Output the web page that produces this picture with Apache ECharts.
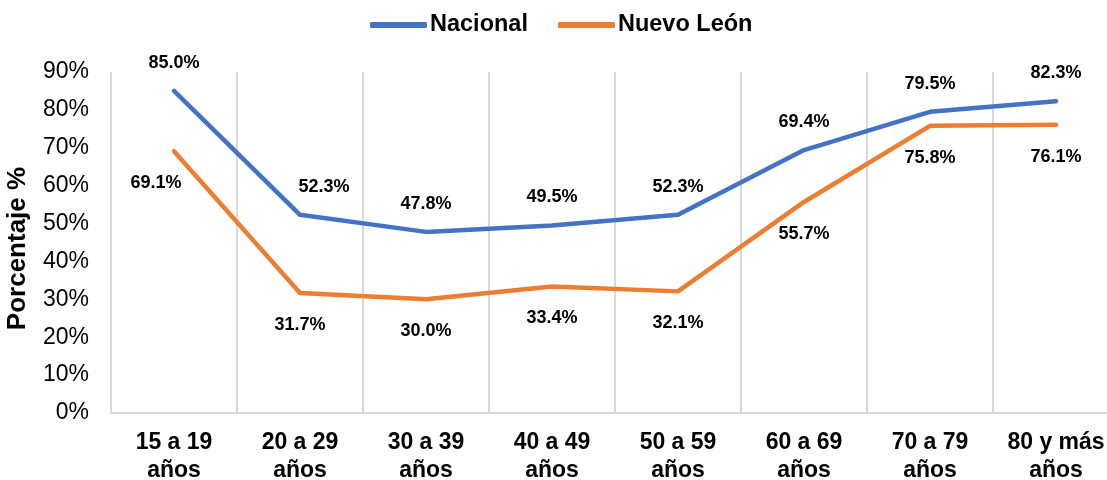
<!DOCTYPE html>
<html>
<head>
<meta charset="utf-8">
<script src="https://cdn.jsdelivr.net/npm/echarts@6/dist/echarts.min.js"></script>
<style>
html,body{margin:0;padding:0;background:#fff;}
#chart{width:1107px;height:480px;}
</style>
</head>
<body>
<div id="chart"></div>
<script>
var categories = ['15 a 19\naños','20 a 29\naños','30 a 39\naños','40 a 49\naños','50 a 59\naños','60 a 69\naños','70 a 79\naños','80 y más\naños'];
var nacional = [85.0, 52.3, 47.8, 49.5, 52.3, 69.4, 79.5, 82.3];
var nuevoLeon = [69.1, 31.7, 30.0, 33.4, 32.1, 55.7, 75.8, 76.1];
var seriesNames = ['Nacional', 'Nuevo León'];

var FONT = 'Liberation Sans, Arial, sans-serif';
var BLUE = '#4472C4', ORANGE = '#ED7D31';
var chart = echarts.init(document.getElementById('chart'));

function withOffsets(values, offsets) {
  return values.map(function (v, i) {
    if (offsets[i]) return { value: v, label: { offset: offsets[i] } };
    return v;
  });
}

var option = {
  backgroundColor: '#ffffff',
  animation: false,
  legend: {
    top: 8,
    left: 365,
    itemWidth: 57,
    itemHeight: 6,
    itemGap: 30,
    textStyle: { fontFamily: FONT, fontSize: 23.5, fontWeight: 'bold', color: '#000', padding: [0, 0, 0, -2] },
    data: [
      { name: seriesNames[0], icon: 'roundRect', itemStyle: { color: BLUE, opacity: 1 } },
      { name: seriesNames[1], icon: 'roundRect', itemStyle: { color: ORANGE, opacity: 1 } }
    ]
  },
  grid: { left: 111, width: 1008, top: 72, bottom: 67, containLabel: false, outerBoundsMode: 'none' },
  xAxis: {
    type: 'category',
    data: categories,
    boundaryGap: true,
    axisTick: { show: false },
    axisLine: { show: true, lineStyle: { color: '#d9d9d9', width: 2 } },
    splitLine: { show: true, interval: 0, lineStyle: { color: '#d9d9d9', width: 2 } },
    axisLabel: { interval: 0, margin: 16, fontFamily: FONT, fontSize: 23, fontWeight: 'bold', color: '#000', lineHeight: 28 }
  },
  yAxis: {
    type: 'value',
    min: 0, max: 90, interval: 10,
    name: 'Porcentaje %',
    nameLocation: 'middle',
    nameGap: 80,
    nameTextStyle: { fontFamily: FONT, fontSize: 26, fontWeight: 'bold', color: '#000', padding: [0, 12, 0, 0] },
    axisLine: { show: false },
    axisTick: { show: false },
    splitLine: { show: false },
    axisLabel: { formatter: '{value}%', margin: 22, fontFamily: FONT, fontSize: 23, color: '#000' }
  },
  series: [
    {
      name: seriesNames[0],
      type: 'line',
      data: withOffsets(nacional, { 1: [24, 0] }),
      symbol: 'circle',
      symbolSize: 2,
      showSymbol: true,
      itemStyle: { color: BLUE },
      lineStyle: { width: 4.5, color: BLUE, cap: 'round', join: 'round' },
      label: { show: true, position: 'top', distance: 18, formatter: function (p) { return p.value.toFixed(1) + '%'; },
        fontFamily: FONT, fontSize: 18, fontWeight: 'bold', color: '#000' }
    },
    {
      name: seriesNames[1],
      type: 'line',
      data: withOffsets(nuevoLeon, { 0: [-18, 0] }),
      symbol: 'circle',
      symbolSize: 2,
      showSymbol: true,
      itemStyle: { color: ORANGE },
      lineStyle: { width: 4.5, color: ORANGE, cap: 'round', join: 'round' },
      label: { show: true, position: 'bottom', distance: 22, formatter: function (p) { return p.value.toFixed(1) + '%'; },
        fontFamily: FONT, fontSize: 18, fontWeight: 'bold', color: '#000' }
    }
  ]
};
chart.setOption(option);
</script>
</body>
</html>
